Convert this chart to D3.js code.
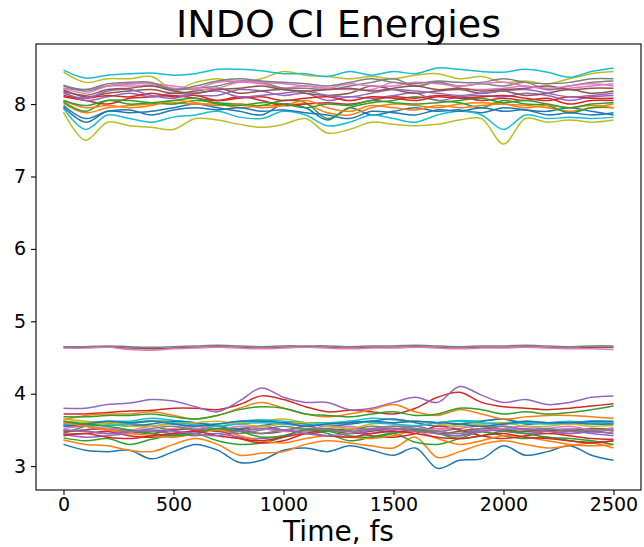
<!DOCTYPE html>
<html>
<head>
<meta charset="utf-8" />
<title>INDO CI Energies</title>
<script src="https://cdn.jsdelivr.net/npm/d3@7"></script>
<style>
  html,body{margin:0;padding:0;background:#fff;}
  svg{display:block;font-family:"DejaVu Sans",sans-serif;}
</style>
</head>
<body>
<svg id="chart" width="644" height="547"></svg>
<script>
// time grid (fs)
const times = [0,100,200,300,400,500,600,700,800,900,1000,1100,1200,1300,1400,1500,1600,1700,1800,1900,2000,2100,2200,2300,2400,2500];

// lower band of states (~3-4 eV)
const lower = [
  [3.30,3.22,3.20,3.22,3.10,3.20,3.30,3.22,3.05,3.08,3.22,3.25,3.20,3.28,3.22,3.15,3.25,2.97,3.08,3.10,3.28,3.15,3.20,3.28,3.15,3.08],
  [3.36,3.30,3.28,3.22,3.20,3.30,3.38,3.30,3.15,3.18,3.20,3.30,3.35,3.32,3.28,3.25,3.40,3.12,3.20,3.30,3.35,3.30,3.25,3.28,3.32,3.25],
  [3.39,3.35,3.38,3.30,3.37,3.43,3.45,3.35,3.30,3.32,3.40,3.50,3.45,3.35,3.40,3.45,3.33,3.30,3.38,3.47,3.42,3.38,3.40,3.35,3.33,3.35],
  [3.72,3.72,3.74,3.76,3.77,3.80,3.80,3.78,3.85,3.97,3.92,3.82,3.75,3.77,3.75,3.72,3.80,3.95,4.02,3.88,3.82,3.80,3.78,3.80,3.83,3.86],
  [3.80,3.80,3.85,3.87,3.92,3.90,3.82,3.75,3.90,4.08,3.95,3.88,3.88,3.78,3.80,3.88,3.95,3.88,4.10,3.98,3.88,3.92,3.85,3.88,3.95,3.97],
  [3.50,3.48,3.45,3.50,3.45,3.42,3.50,3.55,3.50,3.45,3.48,3.55,3.50,3.45,3.48,3.52,3.50,3.45,3.42,3.50,3.55,3.50,3.48,3.45,3.48,3.45],
  [3.48,3.50,3.52,3.50,3.48,3.52,3.55,3.50,3.48,3.52,3.50,3.48,3.52,3.55,3.50,3.48,3.50,3.52,3.50,3.48,3.52,3.55,3.50,3.52,3.50,3.53],
  [3.45,3.55,3.60,3.58,3.55,3.50,3.52,3.48,3.45,3.50,3.55,3.50,3.48,3.50,3.55,3.52,3.50,3.48,3.52,3.55,3.50,3.45,3.48,3.50,3.52,3.48],
  [3.65,3.62,3.60,3.60,3.63,3.62,3.58,3.55,3.60,3.62,3.65,3.60,3.58,3.60,3.62,3.58,3.55,3.60,3.62,3.58,3.60,3.62,3.60,3.58,3.60,3.58],
  [3.60,3.60,3.62,3.62,3.66,3.63,3.60,3.58,3.62,3.64,3.62,3.60,3.60,3.62,3.66,3.64,3.62,3.60,3.63,3.62,3.65,3.60,3.60,3.62,3.60,3.60],
  [3.57,3.60,3.58,3.55,3.58,3.62,3.60,3.55,3.52,3.56,3.60,3.58,3.55,3.58,3.62,3.65,3.60,3.55,3.58,3.62,3.65,3.58,3.60,3.60,3.58,3.58],
  [3.64,3.70,3.72,3.72,3.75,3.70,3.65,3.70,3.80,3.88,3.80,3.72,3.68,3.72,3.78,3.85,3.75,3.70,3.78,3.72,3.65,3.68,3.70,3.70,3.68,3.66],
  [3.68,3.68,3.70,3.70,3.72,3.68,3.65,3.70,3.78,3.82,3.80,3.72,3.70,3.68,3.72,3.75,3.70,3.72,3.80,3.78,3.72,3.75,3.72,3.74,3.78,3.83],
  [3.44,3.45,3.48,3.42,3.40,3.45,3.48,3.50,3.38,3.32,3.35,3.45,3.50,3.48,3.42,3.40,3.45,3.55,3.50,3.42,3.38,3.42,3.45,3.42,3.38,3.37],
  [3.44,3.40,3.42,3.45,3.48,3.45,3.42,3.45,3.40,3.38,3.42,3.50,3.52,3.48,3.45,3.50,3.55,3.48,3.45,3.50,3.48,3.45,3.48,3.50,3.45,3.42],
  [3.47,3.50,3.52,3.48,3.45,3.50,3.52,3.48,3.50,3.55,3.50,3.45,3.48,3.52,3.50,3.47,3.50,3.45,3.48,3.52,3.50,3.48,3.50,3.48,3.52,3.50],
  [3.52,3.55,3.52,3.50,3.55,3.58,3.52,3.50,3.55,3.52,3.48,3.50,3.55,3.52,3.50,3.55,3.52,3.50,3.55,3.50,3.52,3.55,3.52,3.55,3.50,3.52],
  [3.55,3.55,3.50,3.48,3.52,3.55,3.50,3.52,3.48,3.45,3.50,3.52,3.50,3.48,3.52,3.55,3.52,3.48,3.45,3.52,3.55,3.50,3.52,3.48,3.50,3.50],
  [3.62,3.60,3.58,3.55,3.55,3.58,3.60,3.62,3.58,3.55,3.58,3.60,3.55,3.52,3.58,3.60,3.62,3.58,3.55,3.58,3.60,3.55,3.55,3.58,3.55,3.56],
  [3.58,3.57,3.56,3.58,3.62,3.60,3.57,3.55,3.58,3.60,3.58,3.56,3.58,3.62,3.60,3.58,3.56,3.60,3.62,3.60,3.58,3.60,3.58,3.60,3.62,3.60],
  [3.55,3.58,3.62,3.60,3.62,3.58,3.55,3.58,3.62,3.62,3.60,3.55,3.58,3.60,3.62,3.60,3.62,3.60,3.58,3.55,3.58,3.62,3.60,3.60,3.62,3.62],
  [3.60,3.55,3.50,3.45,3.42,3.40,3.45,3.50,3.42,3.35,3.32,3.38,3.42,3.40,3.38,3.42,3.48,3.38,3.30,3.35,3.42,3.40,3.35,3.30,3.28,3.30],
  [3.62,3.58,3.55,3.50,3.45,3.42,3.45,3.52,3.48,3.40,3.42,3.50,3.48,3.42,3.40,3.45,3.50,3.45,3.38,3.42,3.48,3.45,3.40,3.38,3.35,3.30],
  [3.42,3.45,3.40,3.38,3.42,3.45,3.48,3.42,3.38,3.35,3.40,3.45,3.42,3.40,3.45,3.48,3.45,3.40,3.38,3.42,3.45,3.40,3.38,3.35,3.32,3.35],
  [3.50,3.48,3.45,3.47,3.50,3.48,3.45,3.42,3.48,3.52,3.50,3.45,3.42,3.45,3.50,3.52,3.48,3.45,3.42,3.48,3.50,3.52,3.48,3.45,3.47,3.45]
];

// middle band (~4.6 eV)
const middle = [
  [4.64,4.64,4.65,4.63,4.62,4.63,4.64,4.65,4.64,4.63,4.64,4.65,4.64,4.63,4.64,4.64,4.65,4.64,4.63,4.64,4.64,4.65,4.64,4.63,4.64,4.64],
  [4.63,4.63,4.64,4.61,4.60,4.62,4.63,4.64,4.63,4.62,4.63,4.64,4.63,4.62,4.63,4.63,4.64,4.63,4.62,4.63,4.63,4.64,4.63,4.62,4.62,4.61],
  [4.65,4.65,4.66,4.65,4.64,4.65,4.66,4.67,4.66,4.65,4.66,4.66,4.66,4.65,4.66,4.66,4.67,4.66,4.65,4.66,4.66,4.67,4.66,4.65,4.66,4.66]
];

// upper band (~7.5-8.5 eV)
const upper = [
  [8.44,8.30,8.35,8.35,8.38,8.20,8.30,8.35,8.30,8.35,8.45,8.40,8.38,8.35,8.38,8.35,8.40,8.42,8.35,8.38,8.30,8.32,8.28,8.35,8.42,8.45],
  [8.47,8.36,8.40,8.42,8.43,8.40,8.42,8.48,8.48,8.46,8.42,8.42,8.38,8.45,8.40,8.45,8.42,8.50,8.48,8.45,8.44,8.48,8.44,8.37,8.45,8.50],
  [7.96,7.75,7.90,7.88,7.90,7.95,8.00,7.95,7.90,7.85,8.00,7.95,7.78,7.95,7.85,7.90,7.95,7.90,7.92,7.88,7.95,7.92,7.90,7.95,7.90,7.85],
  [8.01,7.88,7.95,7.98,8.00,8.02,8.00,8.00,7.95,7.98,7.98,8.00,7.88,7.85,7.95,8.00,7.98,7.95,8.00,8.02,8.00,7.98,7.95,7.90,7.95,8.00],
  [8.03,7.90,8.05,8.00,8.02,8.00,8.05,8.02,8.00,7.98,8.05,8.02,7.80,7.95,8.02,8.05,8.10,8.05,8.02,7.95,8.05,8.00,7.98,7.88,7.95,7.95],
  [8.10,8.05,8.00,8.08,8.10,8.12,8.08,8.05,8.10,8.05,7.98,8.00,8.02,8.00,8.05,8.10,8.08,8.12,8.10,8.05,8.08,8.05,8.08,8.00,8.05,8.05],
  [8.17,8.05,8.10,8.15,8.10,8.15,8.12,8.12,8.20,8.18,8.12,8.15,8.05,8.10,8.08,8.12,8.15,8.05,8.10,8.12,8.10,8.15,8.12,8.05,8.10,8.12],
  [8.20,8.10,8.15,8.18,8.20,8.15,8.18,8.22,8.15,8.18,8.20,8.15,8.12,8.15,8.25,8.20,8.15,8.18,8.20,8.15,8.18,8.12,8.15,8.20,8.15,8.18],
  [8.22,8.20,8.25,8.25,8.25,8.22,8.20,8.22,8.30,8.28,8.22,8.25,8.22,8.20,8.20,8.30,8.25,8.30,8.22,8.20,8.22,8.25,8.20,8.22,8.25,8.28],
  [8.25,8.18,8.25,8.28,8.28,8.20,8.22,8.25,8.32,8.30,8.22,8.22,8.20,8.25,8.30,8.35,8.25,8.30,8.25,8.28,8.25,8.30,8.20,8.25,8.30,8.32],
  [7.89,7.50,7.75,7.70,7.68,7.65,7.80,7.78,7.72,7.68,7.72,7.80,7.60,7.65,7.75,7.72,7.70,7.72,7.78,7.80,7.45,7.80,7.75,7.78,7.75,7.78],
  [7.94,7.65,7.85,7.80,7.75,7.82,7.85,7.90,7.82,7.80,7.90,7.85,7.70,7.75,7.85,7.80,7.75,7.85,7.90,7.85,7.65,7.85,7.80,7.82,7.80,7.82],
  [7.98,7.80,7.90,7.92,7.85,7.92,7.95,7.92,7.95,7.90,7.92,7.88,7.85,7.80,7.90,7.88,7.85,7.92,7.90,7.95,7.90,7.92,7.85,7.88,7.85,7.88],
  [8.05,7.95,7.98,7.95,7.98,8.05,8.02,7.98,8.00,7.95,7.98,8.05,7.95,7.90,7.98,7.95,7.92,7.98,7.95,7.98,8.00,7.95,7.98,7.95,7.98,7.95],
  [8.05,7.98,8.05,8.05,8.02,8.05,8.08,8.00,7.98,8.02,8.00,7.95,8.00,7.98,8.05,8.02,8.00,8.02,8.05,8.08,8.02,8.05,8.00,7.95,8.00,8.02],
  [8.12,8.08,8.12,8.10,8.15,8.10,8.12,8.05,8.08,8.10,8.05,8.08,8.10,8.05,8.10,8.08,8.05,8.10,8.08,8.10,8.12,8.08,8.05,8.10,8.08,8.08],
  [8.15,8.08,8.18,8.20,8.12,8.08,8.15,8.18,8.10,8.12,8.15,8.18,8.12,8.10,8.15,8.20,8.18,8.15,8.12,8.15,8.18,8.20,8.15,8.10,8.12,8.15],
  [8.18,8.12,8.20,8.22,8.25,8.18,8.15,8.20,8.22,8.25,8.20,8.18,8.20,8.22,8.18,8.22,8.25,8.20,8.22,8.18,8.20,8.22,8.25,8.20,8.22,8.22],
  [8.22,8.15,8.25,8.28,8.28,8.25,8.22,8.30,8.32,8.30,8.28,8.25,8.22,8.28,8.25,8.25,8.30,8.28,8.25,8.28,8.30,8.25,8.22,8.25,8.28,8.25],
  [8.26,8.20,8.28,8.30,8.30,8.20,8.25,8.32,8.35,8.32,8.30,8.28,8.25,8.30,8.35,8.30,8.28,8.32,8.30,8.30,8.35,8.30,8.28,8.30,8.35,8.35]
];

const xTicks = [0,500,1000,1500,2000,2500];
const yTicks = [3,4,5,6,7,8];

const series = lower.concat(middle, upper);

const svg = d3.select('#chart');
const L = 36, R = 641, T = 44, B = 490;

const x = d3.scaleLinear().domain([-125, 2625]).range([L, R]);
const y = d3.scaleLinear().domain([2.67, 8.83]).range([B, T]);
const color = d3.scaleOrdinal(d3.schemeCategory10);

const line = d3.line()
  .x((d, i) => x(times[i]))
  .y(d => y(d))
  .curve(d3.curveCatmullRom.alpha(0.5));

svg.append('g')
  .selectAll('path')
  .data(series)
  .join('path')
    .attr('d', line)
    .attr('fill', 'none')
    .attr('stroke', (d, i) => color(i % 10))
    .attr('stroke-width', 1.5);

// frame
svg.append('rect')
  .attr('x', L).attr('y', T)
  .attr('width', R - L).attr('height', B - T)
  .attr('fill', 'none').attr('stroke', '#000').attr('stroke-width', 1.1);

const xAxis = svg.append('g')
  .attr('transform', `translate(0,${B})`)
  .call(d3.axisBottom(x).tickValues(xTicks).tickFormat(d3.format('d')).tickSize(5).tickPadding(3));
const yAxis = svg.append('g')
  .attr('transform', `translate(${L},0)`)
  .call(d3.axisLeft(y).tickValues(yTicks).tickFormat(d3.format('d')).tickSize(5).tickPadding(5));

[xAxis, yAxis].forEach(a => {
  a.select('.domain').remove();
  a.selectAll('line').attr('stroke', '#000').attr('stroke-width', 1.1);
  a.selectAll('text').attr('fill', '#000')
    .style('font-family', '"DejaVu Sans", sans-serif').style('font-size', '19px');
});

svg.append('text')
  .attr('x', (L + R) / 2).attr('y', 37)
  .attr('text-anchor', 'middle')
  .style('font-size', '38px')
  .text('INDO CI Energies');

svg.append('text')
  .attr('x', (L + R) / 2).attr('y', 541)
  .attr('text-anchor', 'middle')
  .style('font-size', '28px')
  .text('Time, fs');
</script>
</body>
</html>
